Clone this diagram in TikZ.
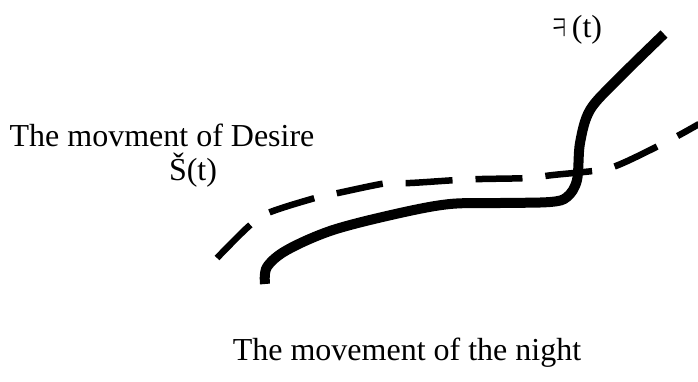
\documentclass[tikz,border=0pt]{standalone}
\usepackage{fontspec}
\setmainfont{Liberation Serif}
\newfontfamily\krfont{Noto Sans CJK KR Light}
\begin{document}
\begin{tikzpicture}[x=1pt,y=-1pt,
  lbl/.style={inner sep=0pt,anchor=base,font=\fontsize{32}{38}\selectfont},
  solidcurve/.style={line width=10pt,line cap=butt},
  dashcurve/.style={line width=6.5pt,dash pattern=on 47pt off 23pt}]
\useasboundingbox (0,0) rectangle (698,381);
\node[lbl] (desire) at (162,146) {The movment of Desire};
\node[lbl] (s) at (193,180) {Š(t)};
\node[inner sep=0pt,anchor=base,font=\fontsize{32}{38}\selectfont] (kglyph) at (560,41) {{\krfont\scalebox{0.62}[1.15]{ㅋ}}};
\node[lbl] (t) at (587,37) {(t)};
\node[lbl] (night) at (407,360) {The movement of the night};
\draw[solidcurve] plot[smooth,tension=0.55] coordinates {(265,284) (267,267) (287,250) (333,230) (400,213) (450,204) (500,203) (550,202) (567,197) (577,180) (580,143) (590,110) (617,80) (664,34)};
\draw[dashcurve] plot[smooth,tension=0.55] coordinates {(217,258) (248,227) (268,213) (315,198) (338,193) (387,183) (410,183) (457,180) (482,179) (528,178) (553,175) (600,170) (623,163) (670,140) (699,124)};
\end{tikzpicture}
\end{document}
